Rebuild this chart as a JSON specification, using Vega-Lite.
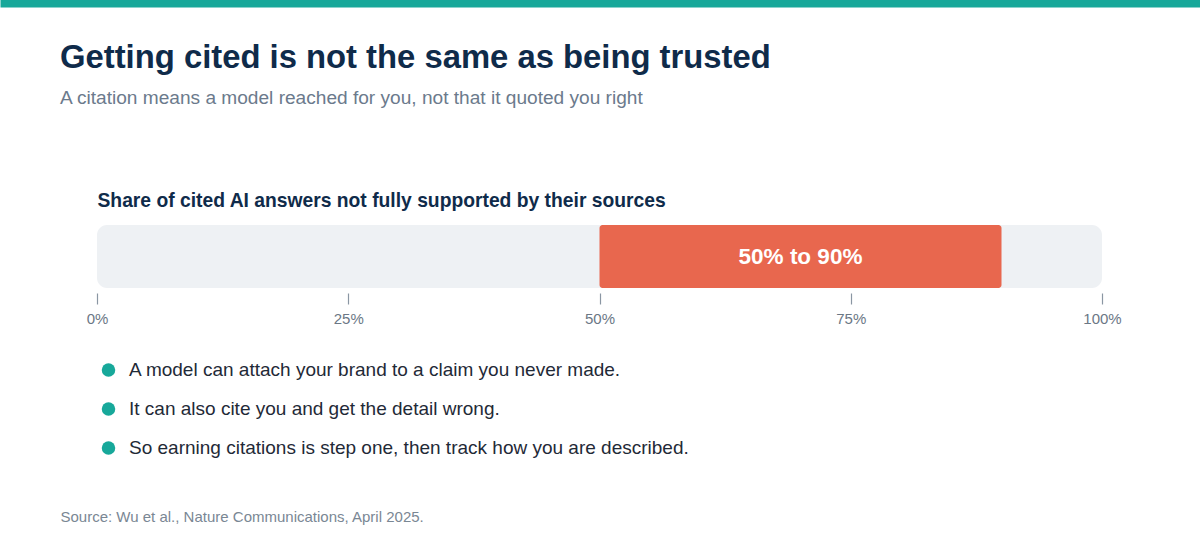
{
  "$schema": "https://vega.github.io/schema/vega-lite/v6.json",
  "width": 1005,
  "height": 63,
  "autosize": {"type": "none"},
  "padding": {"left": 97, "top": 225, "right": 98, "bottom": 252},
  "background": "#ffffff",
  "title": {
    "text": "Getting cited is not the same as being trusted",
    "subtitle": "A citation means a model reached for you, not that it quoted you right",
    "anchor": "start",
    "frame": "group",
    "dx": -37,
    "dy": 108,
    "offset": 0,
    "font": "Liberation Sans",
    "fontSize": 32.8,
    "fontWeight": "bold",
    "color": "#0f2b4a",
    "subtitleFont": "Liberation Sans",
    "subtitleFontSize": 19.1,
    "subtitleColor": "#6b7a8c",
    "subtitlePadding": 14
  },
  "resolve": {"axis": {"x": "independent"}},
  "layer": [
    {
      "data": {"values": [{"start": 0, "end": 100}]},
      "mark": {"type": "rect", "color": "#eef1f4", "cornerRadius": 10},
      "encoding": {
        "x": {
          "field": "start",
          "type": "quantitative",
          "scale": {"domain": [-9.6517, 109.7512], "range": [-97, 1103], "nice": false, "zero": false},
          "axis": {
            "orient": "top",
            "offset": 225,
            "domain": true,
            "domainColor": "#17a89a",
            "domainWidth": 14,
            "ticks": false,
            "labels": false,
            "grid": false,
            "title": "Share of cited AI answers not fully supported by their sources",
            "titleX": 0,
            "titleY": 206,
            "titleAlign": "left",
            "titleBaseline": "alphabetic",
            "titleFont": "Liberation Sans",
            "titleFontSize": 19.3,
            "titleFontWeight": "bold",
            "titleColor": "#0f2b4a"
          }
        },
        "x2": {"field": "end"}
      }
    },
    {
      "data": {"values": [{"low": 50, "high": 90, "label": "50% to 90%"}]},
      "mark": {"type": "rect", "color": "#e8674e", "cornerRadius": 3},
      "encoding": {
        "x": {
          "field": "low",
          "type": "quantitative",
          "scale": {"domain": [-9.6517, 109.7512], "range": [-97, 1103], "nice": false, "zero": false},
          "axis": {
            "orient": "bottom",
            "offset": 5,
            "domain": false,
            "grid": false,
            "values": [0, 25, 50, 75, 100],
            "labelExpr": "datum.value + '%'",
            "tickSize": 11,
            "tickColor": "#8a96a3",
            "tickWidth": 1.2,
            "labelFont": "Liberation Sans",
            "labelFontSize": 15,
            "labelColor": "#6b7785",
            "labelPadding": 7,
            "title": "Source: Wu et al., Nature Communications, April 2025.",
            "titleX": -37,
            "titleY": 228,
            "titleAlign": "left",
            "titleBaseline": "alphabetic",
            "titleFont": "Liberation Sans",
            "titleFontSize": 15,
            "titleFontWeight": "normal",
            "titleColor": "#7a8794"
          }
        },
        "x2": {"field": "high"}
      }
    },
    {
      "data": {"values": [{"low": 50, "high": 90, "label": "50% to 90%"}]},
      "transform": [{"calculate": "(datum.low + datum.high) / 2", "as": "mid"}],
      "mark": {"type": "text", "color": "#ffffff", "font": "Liberation Sans", "fontSize": 22.5, "fontWeight": "bold", "align": "center", "baseline": "middle"},
      "encoding": {
        "x": {"field": "mid", "type": "quantitative", "axis": null},
        "text": {"field": "label"}
      }
    },
    {
      "data": {"values": [
        {"point": "A model can attach your brand to a claim you never made."},
        {"point": "It can also cite you and get the detail wrong."},
        {"point": "So earning citations is step one, then track how you are described."}
      ]},
      "mark": {"type": "point", "filled": true, "opacity": 0},
      "encoding": {
        "color": {
          "field": "point",
          "type": "nominal",
          "scale": {
            "domain": [
              "A model can attach your brand to a claim you never made.",
              "It can also cite you and get the detail wrong.",
              "So earning citations is step one, then track how you are described."
            ],
            "range": ["#17a89a", "#17a89a", "#17a89a"]
          },
          "legend": {
            "orient": "none",
            "legendX": 2,
            "legendY": 135.5,
            "title": null,
            "padding": 0,
            "symbolType": "circle",
            "symbolSize": 182,
            "symbolOpacity": 1,
            "symbolStrokeWidth": 0,
            "labelFont": "Liberation Sans",
            "labelFontSize": 19,
            "labelColor": "#1f2a37",
            "labelOffset": 11,
            "labelLimit": 1000,
            "rowPadding": 19
          }
        }
      }
    }
  ],
  "config": {"view": {"stroke": null}}
}
